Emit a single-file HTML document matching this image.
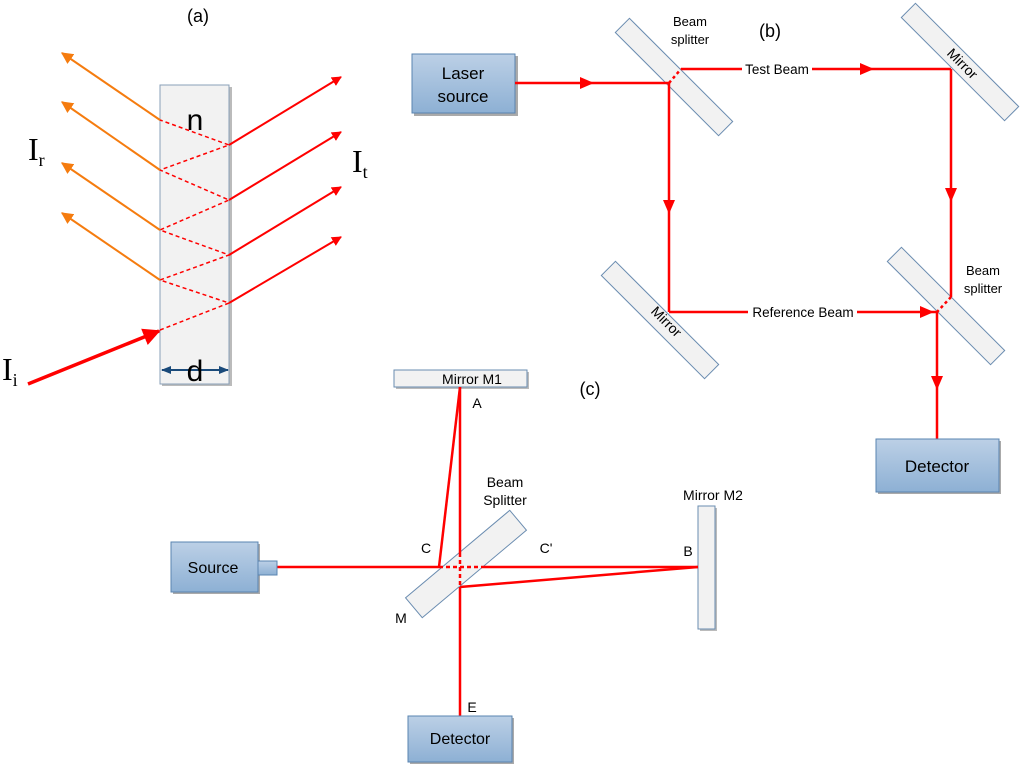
<!DOCTYPE html>
<html><head><meta charset="utf-8"><style>
html,body{margin:0;padding:0;background:#fff;}
svg{display:block;font-family:"Liberation Sans",sans-serif;}
</style></head><body>
<svg width="1024" height="767" viewBox="0 0 1024 767" xmlns="http://www.w3.org/2000/svg">
<defs>
<linearGradient id="bx" x1="0" y1="0" x2="0" y2="1"><stop offset="0" stop-color="#bcd0e6"/><stop offset="1" stop-color="#8db0d4"/></linearGradient>
<marker id="ar" viewBox="0 0 10 10" refX="9" refY="5" markerWidth="5" markerHeight="5" orient="auto"><path d="M0,0L10,5L0,10z" fill="#f00"/></marker>
<marker id="ao" viewBox="0 0 10 10" refX="9" refY="5" markerWidth="6" markerHeight="6" orient="auto"><path d="M0,0L10,5L0,10z" fill="#f57c0f"/></marker>
<marker id="ab" viewBox="0 0 10 10" refX="9" refY="5" markerWidth="5" markerHeight="5" orient="auto"><path d="M0,1L10,5L0,9z" fill="#1a4a7a"/></marker>
<marker id="ai" viewBox="0 0 10 10" refX="9" refY="5" markerWidth="5" markerHeight="5" orient="auto"><path d="M0,0L10,5L0,10z" fill="#f00"/></marker>
</defs>

<!-- (a) -->
<text x="198" y="22" font-size="18" text-anchor="middle">(a)</text>
<rect x="162" y="87" width="70" height="299" fill="#bbb"/>
<rect x="160" y="85" width="69" height="299" fill="#f2f2f2" stroke="#8aa0b8" stroke-width="1"/>
<text x="195" y="130" font-size="30" text-anchor="middle">n</text>
<g stroke="#f00" stroke-width="1.5" stroke-dasharray="4,3" fill="none">
<polyline points="160,330 229,303 160,280 229,255 160,230 229,200 160,170 229,145 160,120"/>
</g>
<g stroke="#f00" stroke-width="2" fill="none" marker-end="url(#ar)">
<line x1="229" y1="145" x2="341" y2="77"/>
<line x1="229" y1="200" x2="341" y2="132"/>
<line x1="229" y1="255" x2="341" y2="187"/>
<line x1="229" y1="303" x2="341" y2="237"/>
</g>
<line x1="28" y1="384" x2="159" y2="331" stroke="#f00" stroke-width="3.5" marker-end="url(#ai)"/>
<g stroke="#f57c0f" stroke-width="2" fill="none" marker-end="url(#ao)">
<line x1="160" y1="120" x2="62" y2="53"/>
<line x1="160" y1="170" x2="62" y2="102"/>
<line x1="160" y1="230" x2="62" y2="163"/>
<line x1="160" y1="280" x2="62" y2="213"/>
</g>
<line x1="195" y1="370" x2="162" y2="370" stroke="#1a4a7a" stroke-width="2" marker-end="url(#ab)"/>
<line x1="195" y1="370" x2="228" y2="370" stroke="#1a4a7a" stroke-width="2" marker-end="url(#ab)"/>
<text x="195" y="381" font-size="30" text-anchor="middle">d</text>
<text x="28" y="160" font-size="32" font-family="Liberation Serif,serif">I<tspan font-size="18" dy="6">r</tspan></text>
<text x="352" y="172" font-size="32" font-family="Liberation Serif,serif">I<tspan font-size="18" dy="6">t</tspan></text>
<text x="2" y="380" font-size="32" font-family="Liberation Serif,serif">I<tspan font-size="18" dy="6">i</tspan></text>

<!-- (b) -->
<text x="770" y="37" font-size="18" text-anchor="middle">(b)</text>
<rect x="414" y="56" width="104" height="60" fill="#aaa"/>
<rect x="412" y="54" width="103" height="59" fill="url(#bx)" stroke="#5a84b0"/>
<text x="463" y="79" font-size="17" text-anchor="middle">Laser</text>
<text x="463" y="102" font-size="17" text-anchor="middle">source</text>
<g fill="#f2f2f2" stroke="#6a8cb0">
<rect x="-73" y="-10" width="146" height="20" transform="translate(674,77) rotate(45)"/>
<rect x="-73" y="-10" width="146" height="20" transform="translate(960,62) rotate(45)"/>
<rect x="-73" y="-10" width="146" height="20" transform="translate(946,306) rotate(45)"/>
<rect x="-73" y="-10" width="146" height="20" transform="translate(660,320) rotate(45)"/>
</g>
<text font-size="14" text-anchor="middle" transform="translate(959,67) rotate(45)">Mirror</text>
<text font-size="14" text-anchor="middle" transform="translate(663,325) rotate(45)">Mirror</text>
<text x="690" y="26" font-size="13" text-anchor="middle">Beam</text>
<text x="690" y="44" font-size="13" text-anchor="middle">splitter</text>
<text x="983" y="275" font-size="13" text-anchor="middle">Beam</text>
<text x="983" y="293" font-size="13" text-anchor="middle">splitter</text>
<g stroke="#f00" stroke-width="2.5" fill="none">
<line x1="515" y1="83" x2="669" y2="83"/>
<line x1="669" y1="83" x2="681" y2="69" stroke-dasharray="3,3"/>
<line x1="681" y1="69" x2="742" y2="69"/>
<line x1="812" y1="69" x2="951" y2="69"/>
<line x1="951" y1="69" x2="951" y2="297"/>
<line x1="951" y1="297" x2="937" y2="312" stroke-dasharray="3,3"/>
<line x1="669" y1="83" x2="669" y2="312"/>
<line x1="669" y1="312" x2="748" y2="312"/>
<line x1="857" y1="312" x2="937" y2="312"/>
<line x1="937" y1="312" x2="937" y2="439"/>
</g>
<g fill="#f00">
<path d="M580,77L594,83L580,89z"/>
<path d="M860,63L874,69L860,75z"/>
<path d="M945,188L951,202L957,188z"/>
<path d="M663,200L669,214L675,200z"/>
<path d="M920,306L934,312L920,318z"/>
<path d="M931,376L937,390L943,376z"/>
</g>
<text x="777" y="74" font-size="13.5" text-anchor="middle">Test Beam</text>
<text x="803" y="317" font-size="13.5" text-anchor="middle">Reference Beam</text>
<rect x="878" y="441" width="123" height="53" fill="#aaa"/>
<rect x="876" y="439" width="123" height="53" fill="url(#bx)" stroke="#5a84b0"/>
<text x="937" y="472" font-size="17" text-anchor="middle">Detector</text>

<!-- (c) -->
<text x="590" y="395" font-size="18" text-anchor="middle">(c)</text>
<rect x="396" y="372" width="133" height="17" fill="#bbb"/>
<rect x="394" y="370" width="133" height="17" fill="#f2f2f2" stroke="#6a8cb0"/>
<text x="472" y="384" font-size="14" text-anchor="middle">Mirror M1</text>
<rect x="700" y="508" width="17" height="123" fill="#bbb"/>
<rect x="698" y="506" width="17" height="123" fill="#f2f2f2" stroke="#6a8cb0"/>
<text x="713" y="500" font-size="14" text-anchor="middle">Mirror M2</text>
<rect x="-68" y="-13" width="136" height="26" transform="translate(466,564) rotate(-40)" fill="#f2f2f2" stroke="#6a8cb0"/>
<text x="505" y="487" font-size="14" text-anchor="middle">Beam</text>
<text x="505" y="505" font-size="14" text-anchor="middle">Splitter</text>
<g stroke="#f00" stroke-width="2.5" fill="none">
<line x1="460" y1="387" x2="460" y2="553"/>
<line x1="460" y1="587" x2="460" y2="716"/>
<line x1="460" y1="387" x2="439" y2="567"/>
<line x1="277" y1="567" x2="439" y2="567"/>
<line x1="483" y1="567" x2="698" y2="567"/>
<line x1="698" y1="567" x2="460" y2="587"/>
<line x1="439" y1="567" x2="483" y2="567" stroke-dasharray="4,3"/>
<line x1="460" y1="553" x2="460" y2="587" stroke-dasharray="4,3"/>
</g>
<text x="477" y="408" font-size="14" text-anchor="middle">A</text>
<text x="426" y="553" font-size="14" text-anchor="middle">C</text>
<text x="546" y="553" font-size="14" text-anchor="middle">C'</text>
<text x="688" y="556" font-size="14" text-anchor="middle">B</text>
<text x="401" y="623" font-size="14" text-anchor="middle">M</text>
<text x="472" y="712" font-size="14" text-anchor="middle">E</text>
<rect x="173" y="544" width="87" height="50" fill="#aaa"/>
<rect x="171" y="542" width="87" height="50" fill="url(#bx)" stroke="#5a84b0"/>
<rect x="258" y="561" width="19" height="14" fill="url(#bx)" stroke="#5a84b0"/>
<text x="213" y="573" font-size="16" text-anchor="middle">Source</text>
<rect x="410" y="718" width="104" height="46" fill="#aaa"/>
<rect x="408" y="716" width="104" height="46" fill="url(#bx)" stroke="#5a84b0"/>
<text x="460" y="744" font-size="16" text-anchor="middle">Detector</text>
</svg>
</body></html>
